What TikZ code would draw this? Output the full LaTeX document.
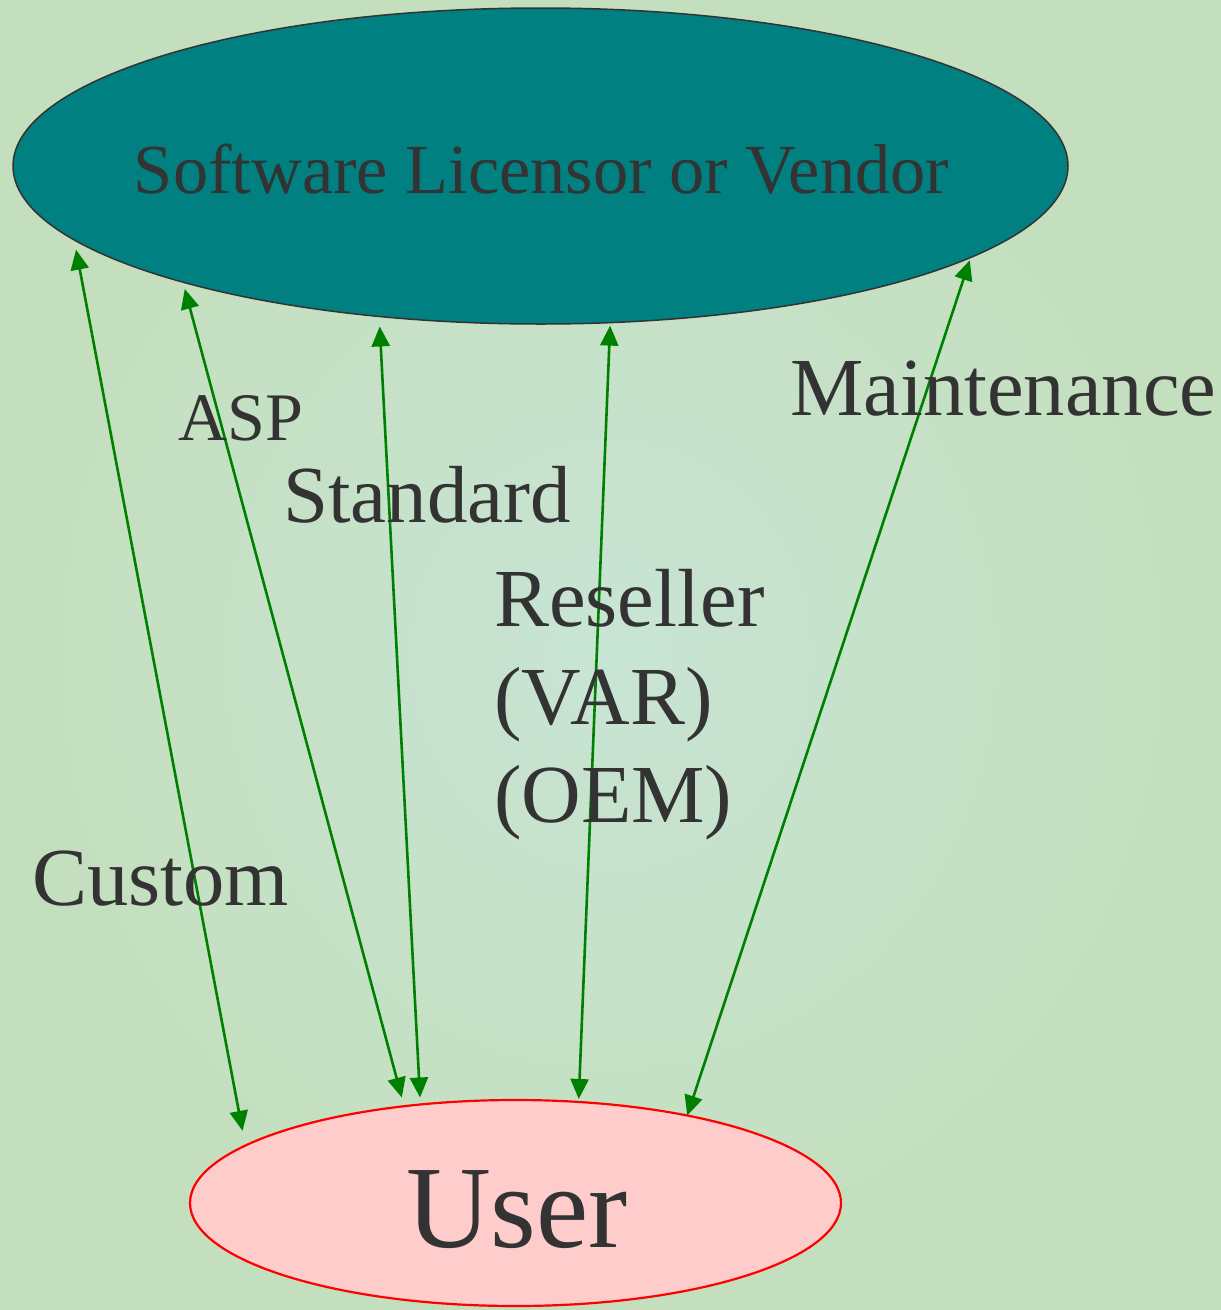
\documentclass[tikz,border=0pt]{standalone}
\usepackage{fontspec}
\setmainfont{Liberation Serif}
\usetikzlibrary{shapes.geometric,arrows.meta}

\definecolor{paper}{RGB}{196,223,189}
\definecolor{paperlight}{RGB}{200,228,212}
\definecolor{ink}{RGB}{51,51,51}
\definecolor{vendorfill}{RGB}{0,128,128}
\definecolor{userfill}{RGB}{255,204,204}
\definecolor{flow}{RGB}{0,128,0}

\tikzset{
  party/.style={ellipse, inner sep=0pt, outer sep=0pt, text=ink},
  label text/.style={anchor=base west, inner sep=0pt, text=ink,
    font=\fontsize{82.5}{98}\selectfont},
  channel/.style={draw=flow, line width=2.6pt,
    {Triangle[length=20pt,width=18pt]}-{Triangle[length=20pt,width=18pt]}},
}

\begin{document}
\begin{tikzpicture}[x=1pt,y=-1pt]
  % textured paper backdrop
  \useasboundingbox (0,0) rectangle (1221,1310);
  \shade[inner color=paperlight, outer color=paper] (0,0) rectangle (1221,1310);

  % the two parties
  \node[party, draw=ink, line width=1.5pt, fill=vendorfill,
        minimum width=1055pt, minimum height=316pt] (vendor) at (540.5,166) {};
  \node[anchor=base, inner sep=0pt, text=ink,
        font=\fontsize{70.4}{80}\selectfont] (vendorname) at (541.5,193)
        {Software Licensor or Vendor};

  \node[party, draw=red, line width=2.2pt, fill=userfill,
        minimum width=651pt, minimum height=206pt] (user) at (515.5,1203) {};
  \node[anchor=base, inner sep=0pt, text=ink,
        font=\fontsize{117.5}{130}\selectfont] (username) at (517,1247) {User};

  % delivery channels between vendor and user
  \draw[channel, shorten <=10pt, shorten >=15pt] (vendor.189.8) -- (user.168.5);
  \draw[channel, shorten <=7pt,  shorten >=9pt]  (vendor.198.8) -- (user.139.55);
  \draw[channel, shorten <=10pt, shorten >=7pt]  (vendor.223.9) -- (user.134.7);
  \draw[channel, shorten <=3pt,  shorten >=3pt]  (vendor.294.6) -- (user.58.8);
  \draw[channel, shorten <=3pt,  shorten >=0pt]  (vendor.348.98) -- (user.27.7);

  % channel names
  \node[label text, font=\fontsize{68}{80}\selectfont] (asp) at (178,440) {ASP};
  \node[label text, font=\fontsize{81}{98}\selectfont] (standard) at (283,522) {Standard};
  \node[label text, align=left] (reseller) at (494,822) {Reseller\\(VAR)\\(OEM)};
  \node[label text] (custom) at (32,905) {Custom};
  \node[label text] (maintenance) at (790,415) {Maintenance};
\end{tikzpicture}
\end{document}
